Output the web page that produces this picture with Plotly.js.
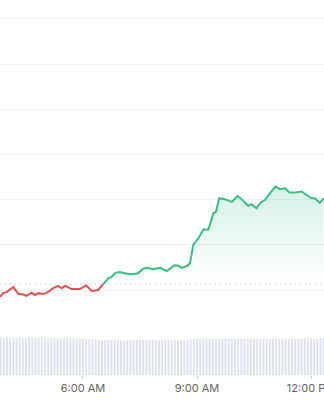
<!DOCTYPE html>
<html>
<head>
<meta charset="utf-8">
<script src="https://cdn.plot.ly/plotly-3.0.1.min.js"></script>
<style>
  html, body { margin: 0; padding: 0; background: #fff; }
  #chart { width: 324px; height: 400px; }
</style>
</head>
<body>
<div id="chart"></div>
<script>
var DAY = '2024-01-01 ';

// price below the opening reference (red part)
var redTimes = ['03:49','03:54','04:00','04:10','04:18','04:26','04:31','04:39','04:44','04:50','04:57','05:03','05:13','05:21','05:26','05:32','05:42','05:55','06:05','06:14','06:24','06:32'];
var redPrices = [-0.15,-0.07,-0.04,0.07,-0.09,-0.10,-0.13,-0.06,-0.11,-0.07,-0.09,-0.06,0.04,0.09,0.04,0.09,0.02,0.02,0.10,-0.02,0.00,0.13];

// price above the opening reference (green part)
var greenTimes = ['06:32','06:40','06:45','06:51','06:58','07:06','07:17','07:27','07:35','07:41','07:51','08:02','08:12','08:25','08:30','08:36','08:44','08:49','08:54','09:02','09:10','09:18','09:26','09:30','09:35','09:44','09:55','10:04','10:12','10:21','10:26','10:34','10:40','10:47','10:55','11:04','11:11','11:19','11:26','11:35','11:45','11:53','12:01','12:06','12:14','12:20'];
var greenPrices = [0.13,0.26,0.29,0.38,0.40,0.37,0.35,0.37,0.47,0.49,0.46,0.49,0.42,0.55,0.54,0.49,0.53,0.59,1.00,1.14,1.34,1.34,1.70,1.73,2.03,2.01,1.95,2.08,1.99,1.86,1.90,1.81,1.93,1.99,2.14,2.29,2.23,2.25,2.16,2.16,2.18,2.10,2.03,2.03,1.93,2.03];

var openPrice = 0.133;

// volume bars, every 5 minutes from 03:50
var volumeStart = '03:50';
var volumes = [1.00,0.99,1.01,0.98,1.00,0.99,1.00,0.98,0.99,1.01,1.00,0.99,0.98,1.00,0.99,0.97,0.98,0.99,0.98,0.97,0.98,0.99,0.97,0.98,0.97,0.98,0.97,
  0.96,0.95,0.95,0.94,0.95,0.94,0.93,0.94,0.93,0.93,0.94,0.93,0.92,0.93,0.93,0.92,0.93,0.94,0.93,0.92,0.93,0.94,0.93,0.92,0.93,0.92,0.93,0.94,0.93,0.92,0.93,0.93,0.94,0.95,0.96,0.97,
  0.97,0.98,0.97,0.98,0.97,0.96,0.97,0.98,0.97,0.96,0.97,0.96,0.97,0.98,0.97,0.96,0.97,0.98,0.97,0.96,0.97,0.96,0.97,0.98,0.97,0.96,0.97,0.98,0.97,0.98,0.97,0.96,0.97,0.98,0.97,0.98,0.97,0.96,0.97,0.98];

var tickTimes = ['06:00','09:00','12:00'];

function d(t) { return DAY + t; }

var GREEN = 'rgb(56,190,131)';
var RED = 'rgb(228,80,84)';

var traces = [
  {
    type: 'bar', x0: d(volumeStart), dx: 300000, y: volumes,
    xaxis: 'x', yaxis: 'y2',
    marker: { color: '#dde1ec', line: { width: 0 } },
    hoverinfo: 'skip', showlegend: false
  },
  {
    type: 'scatter', mode: 'lines',
    x: [d(greenTimes[0]), d(greenTimes[greenTimes.length - 1])],
    y: [openPrice, openPrice],
    line: { width: 0, color: 'rgba(0,0,0,0)' },
    hoverinfo: 'skip', showlegend: false
  },
  {
    type: 'scatter', mode: 'lines',
    x: greenTimes.map(d), y: greenPrices,
    fill: 'tonexty',
    fillgradient: {
      type: 'vertical', start: openPrice, stop: 2.3,
      colorscale: [[0, 'rgba(56,190,131,0)'], [1, 'rgba(56,190,131,0.2)']]
    },
    line: { color: GREEN, width: 2 },
    showlegend: false
  },
  {
    type: 'scatter', mode: 'lines',
    x: [d(redTimes[0]), d('12:21')], y: [openPrice, openPrice],
    line: { color: '#b9bcc3', width: 1, dash: '1px,4px' },
    hoverinfo: 'skip', showlegend: false
  },
  {
    type: 'scatter', mode: 'lines',
    x: redTimes.map(d), y: redPrices,
    line: { color: RED, width: 2 },
    showlegend: false
  }
];

var layout = {
  width: 324, height: 400,
  margin: { l: 0, r: 0, t: 0, b: 25, pad: 0 },
  paper_bgcolor: '#fff', plot_bgcolor: '#fff',
  showlegend: false,
  bargap: 0.4,
  font: { family: 'Inter, "Liberation Sans", sans-serif', color: '#666', size: 11 },
  xaxis: {
    type: 'date', anchor: 'y2',
    range: [DAY + '03:49:00', DAY + '12:20:30'],
    tickvals: tickTimes.map(d),
    tickformat: '%-I:%M %p',
    ticklabeloverflow: 'allow',
    ticks: 'outside', ticklen: 3, tickcolor: '#c8c8c8', tickwidth: 1,
    showgrid: false, showline: false, zeroline: false,
    automargin: false,
    tickfont: { family: 'Inter, "Liberation Sans", sans-serif', color: '#666', size: 11 }
  },
  yaxis: {
    domain: [0.2, 1], anchor: 'x',
    range: [-0.221, 6.416],
    tick0: 0, dtick: 1,
    showticklabels: false, ticks: '',
    gridcolor: '#f0f1f3', gridwidth: 1,
    zeroline: false, showline: false, automargin: false
  },
  yaxis2: {
    domain: [0, 0.12], anchor: 'x',
    range: [0, 1.2],
    showticklabels: false, showgrid: false, zeroline: false, showline: false,
    ticks: '', automargin: false
  }
};

Plotly.newPlot('chart', traces, layout, { staticPlot: true, displayModeBar: false });
</script>
</body>
</html>
